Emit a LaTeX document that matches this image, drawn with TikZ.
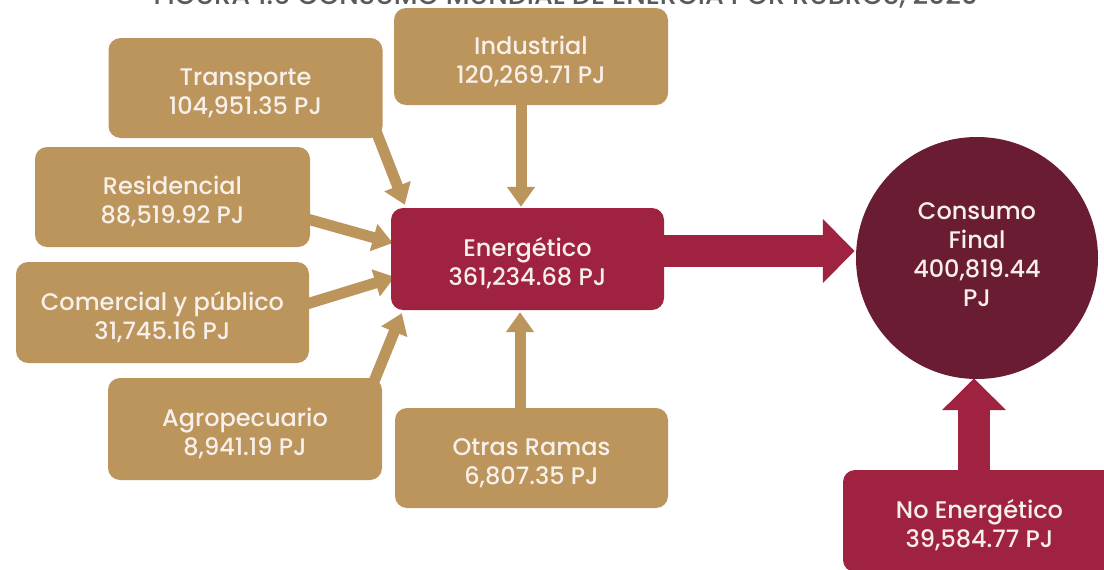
\documentclass[tikz,border=0pt]{standalone}
\usepackage{fontspec}
\setmainfont{Poppins}[UprightFont={* Medium}]
\usetikzlibrary{arrows.meta,calc}
\definecolor{oro}{HTML}{BC955C}
\definecolor{guinda}{HTML}{9F2241}
\definecolor{guindaosc}{HTML}{691C32}
\definecolor{texto}{HTML}{F7F0EA}
\definecolor{titulo}{HTML}{5A5A5A}
\newcommand\toplift{\rule{0pt}{28pt}}
\pgfdeclarelayer{bg}
\pgfsetlayers{bg,main}
\begin{document}
\begin{tikzpicture}[x=1pt,y=-1pt,
 box/.style={rounded corners=12pt, minimum width=274pt, minimum height=100pt, text=texto, align=center, font=\fontsize{24}{29}\selectfont, inner sep=0pt},
 tanbox/.style={box, fill=oro},
 redbox/.style={box, fill=guinda},
 tanarrow/.style={oro, line width=11pt, -{Triangle[width=27pt,length=20pt]}},
 bigarrow/.style={guinda, line width=32pt, -{Triangle[width=62pt,length=32pt]}},
]
\useasboundingbox (0,0) rectangle (1104,570);

\node[titulo, anchor=base, font=\fontsize{27}{30}\selectfont] (title) at (566,5) {FIGURA 1.6 CONSUMO MUNDIAL DE ENERGÍA POR RUBROS, 2020};

\node[tanbox, minimum width=274pt, minimum height=100pt] (trans) at (245.5,88) {\toplift Transporte\\104,951.35 PJ};
\node[tanbox, minimum width=274pt, minimum height=97pt] (ind) at (531,56.5) {\toplift Industrial\\120,269.71 PJ};
\node[tanbox, minimum width=275pt, minimum height=100pt] (res) at (172.5,197) {\toplift Residencial\\88,519.92 PJ};
\node[tanbox, minimum width=293pt, minimum height=101pt] (com) at (162.5,312.5) {\toplift Comercial y público\\31,745.16 PJ};
\node[tanbox, minimum width=274pt, minimum height=102pt] (agro) at (245,429) {\toplift Agropecuario\\8,941.19 PJ};
\node[tanbox, minimum width=273pt, minimum height=100pt] (otras) at (531.5,458) {\toplift Otras Ramas\\6,807.35 PJ};
\node[redbox, minimum width=273pt, minimum height=102pt] (ener) at (527.5,259) {\toplift Energético\\361,234.68 PJ};
\node[redbox, minimum width=273pt, minimum height=102pt] (noen) at (979.5,521) {\toplift No Energético\\39,584.77 PJ};
\node[circle, fill=guindaosc, minimum size=242pt, inner sep=0pt, text=texto, align=center, font=\fontsize{24}{29}\selectfont] (circ) at (977,258) {Consumo\\Final\\400,819.44\\PJ\rule[-7pt]{0pt}{7pt}};

\begin{pgfonlayer}{bg}
\fill[white] (0,0) rectangle (1104,570);
\draw[tanarrow] ($(trans.south east)+(-7,-8)$) -- ($(ener.north west)+(14,-3)$);
\draw[tanarrow] ($(res.east)+(-10,20)$) -- ($(ener.west)+(2,-16)$);
\draw[tanarrow] ($(com.east)+(-9,-6.5)$) -- ($(ener.west)+(4,18)$);
\draw[tanarrow] ($(agro.north east)+(-10,8)$) -- ($(ener.south west)+(11,3)$);
\draw[tanarrow] ($(ind.south)+(-10,-5)$) -- ($(ener.north)+(-6.5,-1)$);
\draw[tanarrow] ($(otras.north)+(-11.5,5)$) -- ($(ener.south)+(-7.5,2)$);
\draw[bigarrow] ($(ener.east)+(-9,-8)$) -- ($(circ.west)+(-1,-7)$);
\draw[bigarrow] ($(noen.north)+(-5.5,8)$) -- ($(circ.south)+(-3,-1)$);
\end{pgfonlayer}
\end{tikzpicture}
\end{document}
